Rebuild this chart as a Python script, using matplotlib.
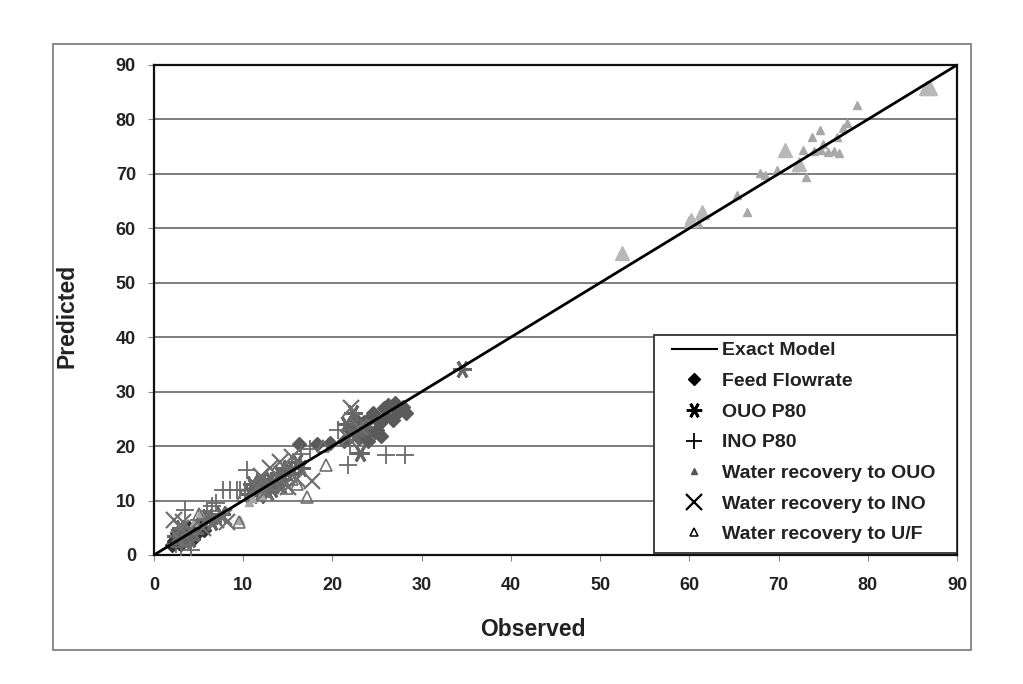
import matplotlib
matplotlib.use("Agg")
import matplotlib.pyplot as plt
from matplotlib.lines import Line2D
from matplotlib.patches import Rectangle

plt.rcParams['font.family'] = ['Liberation Sans', 'DejaVu Sans']

# ---- data (observed, predicted) ----
feed_obs = [2.2, 2.5, 2.8, 3.0, 3.2, 3.4, 3.6, 3.8, 4.0, 4.2, 4.5, 4.7, 5.0, 5.3, 2.6, 3.3, 4.4, 5.6, 2.0, 3.0, 4.8, 3.9,
            16.3, 18.3, 19.7, 21.3, 22.0, 22.7, 23.3, 23.8, 24.2, 24.6, 25.3, 25.8, 26.2, 26.8, 27.3, 27.9, 28.3,
            23.0, 24.0, 25.0, 26.0, 22.5, 23.5, 24.8, 27.0, 25.5]
feed_pred = [2.5, 3.0, 2.2, 3.5, 2.8, 4.0, 3.2, 2.6, 4.3, 3.6, 4.8, 3.9, 4.4, 5.1, 4.0, 4.6, 2.9, 4.6, 1.9, 2.0, 5.5, 5.0,
             20.4, 20.4, 20.6, 20.9, 23.0, 23.6, 22.3, 22.4, 25.2, 26.0, 24.2, 27.0, 27.5, 24.8, 26.3, 27.2, 26.0,
             21.5, 21.0, 23.0, 25.5, 25.0, 24.5, 22.5, 28.0, 21.8]

ouo_p80_obs = [34.5, 23.1, 22.3, 11.5, 12.0, 12.5, 13.0, 13.5, 14.0, 14.5, 15.0, 15.5, 16.0, 12.8, 14.2, 16.5, 11.0,
               2.5, 3.5, 4.5, 6.5, 7.5, 3.0, 22.5, 23.5, 21.5, 10.8, 11.8, 13.2, 14.8, 6.0, 4.0]
ouo_p80_pred = [34.2, 18.7, 26.0, 12.0, 13.5, 12.5, 14.0, 13.0, 15.0, 14.0, 16.0, 15.0, 17.0, 11.5, 12.8, 16.0, 13.0,
                3.5, 2.8, 4.0, 6.0, 7.5, 5.0, 22.0, 23.5, 24.0, 11.2, 11.0, 12.2, 15.5, 7.0, 3.0]

ino_p80_obs = [7.7, 8.5, 9.3, 9.6, 10.2, 10.4, 20.6, 21.7, 26.0, 28.1, 7.0, 6.5, 3.5, 4.2, 3.0, 11.5, 12.5, 14.0,
               15.5, 16.5, 17.5, 22.0, 5.0, 6.0, 2.5]
ino_p80_pred = [12.0, 12.0, 12.0, 12.0, 12.0, 15.6, 23.0, 16.5, 18.4, 18.4, 9.5, 9.0, 8.3, 1.0, 1.5, 13.5, 12.0, 14.5,
                16.0, 18.5, 19.5, 20.0, 6.5, 8.0, 2.0]

wr_ouo_obs = [78.8, 77.7, 77.2, 74.6, 73.8, 76.5, 72.7, 74.0, 74.8, 75.5, 76.2, 76.8, 75.0, 67.9, 69.8, 68.5, 72.0,
              73.1, 65.3, 66.5, 60.0, 61.4, 61.0, 5.2, 10.7, 11.0, 9.6, 4.5, 12.0]
wr_ouo_pred = [82.7, 79.4, 78.5, 78.0, 76.8, 76.8, 74.4, 74.2, 74.3, 74.0, 74.2, 73.8, 75.5, 70.2, 70.7, 69.8, 71.3,
               69.4, 66.1, 63.0, 61.5, 63.0, 61.0, 7.7, 9.8, 10.5, 6.4, 6.0, 11.0]
wr_ouo_big_obs = [52.5, 70.7, 86.5, 87.0, 60.2, 61.4, 72.3]
wr_ouo_big_pred = [55.5, 74.4, 85.8, 85.8, 61.5, 63.0, 71.8]

wr_ino_obs = [2.2, 3.3, 3.0, 4.0, 7.8, 7.0, 8.2, 17.7, 14.1, 22.1, 13.0, 12.0, 15.5, 16.0, 12.5, 15.0, 11.5, 23.0,
              21.8, 2.8, 5.5]
wr_ino_pred = [6.4, 6.1, 5.0, 4.5, 7.0, 6.5, 6.0, 13.5, 17.1, 27.0, 16.0, 14.5, 18.0, 14.0, 11.5, 12.5, 12.5, 23.5,
               21.5, 3.0, 5.0]

wr_uf_obs = [19.3, 17.2, 14.9, 9.5, 10.0, 12.0, 15.5, 5.0, 6.0, 16.0, 13.5, 3.5, 19.0]
wr_uf_pred = [16.5, 10.7, 12.3, 6.0, 11.0, 12.5, 14.0, 7.5, 6.5, 13.0, 13.0, 3.0, 20.0]

model_x = [0, 90]
model_y = [0, 90]

x_ticks = [0, 10, 20, 30, 40, 50, 60, 70, 80, 90]
y_ticks = [0, 10, 20, 30, 40, 50, 60, 70, 80, 90]

labels = ['Exact Model', 'Feed Flowrate', 'OUO P80', 'INO P80',
          'Water recovery to OUO', 'Water recovery to INO', 'Water recovery to U/F']

# ---- figure ----
fig = plt.figure(figsize=(10.23, 6.84), dpi=100)
fig.patch.set_facecolor('white')
fig.add_artist(Rectangle((0.0518, 0.0497), 0.949 - 0.0518, 0.9357 - 0.0497, transform=fig.transFigure,
                         fill=False, edgecolor='#8a8a8a', linewidth=1.4))

ax = fig.add_axes([0.1505, 0.1886, 0.9355 - 0.1505, 0.905 - 0.1886])
ax.set_xlim(0, 90)
ax.set_ylim(0, 90)
ax.set_xticks(x_ticks)
ax.set_yticks(y_ticks)
ax.yaxis.grid(True, color='#5a5a5a', linewidth=1.1)
ax.set_axisbelow(True)

for s in ax.spines.values():
    s.set_color('#111111')
    s.set_linewidth(1.6)

ax.plot(model_x, model_y, color='black', linewidth=2.0, zorder=5)

ax.plot(feed_obs[:22], feed_pred[:22], linestyle='none', marker='D', ms=7, color='#333333', zorder=3)
ax.plot(feed_obs[22:], feed_pred[22:], linestyle='none', marker='D', ms=7, color='#5a5a5a', zorder=3)
ax.plot(ouo_p80_obs, ouo_p80_pred, linestyle='none', marker=(6, 2, 90), ms=13, mew=2.2,
        color='#666666', zorder=3)
ax.plot(ino_p80_obs, ino_p80_pred, linestyle='none', marker='+', ms=13, mew=1.3, color='#6a6a6a', zorder=3)
ax.plot(wr_ouo_obs, wr_ouo_pred, linestyle='none', marker='^', ms=6, color='#a8a8a8', zorder=3)
ax.plot(wr_ouo_big_obs, wr_ouo_big_pred, linestyle='none', marker='^', ms=10, color='#b8b8b8', zorder=3)
ax.plot(wr_ino_obs, wr_ino_pred, linestyle='none', marker='x', ms=12, mew=1.6, color='#707070', zorder=3)
ax.plot(wr_uf_obs, wr_uf_pred, linestyle='none', marker='^', ms=8, mfc='none', mec='#707070', mew=1.2, zorder=3)

ax.tick_params(axis='both', direction='out', length=4, color='#888888', labelsize=13)
ax.tick_params(axis='y', pad=9)
ax.tick_params(axis='x', pad=12)
for lab in ax.get_xticklabels() + ax.get_yticklabels():
    lab.set_fontweight('bold')
    lab.set_color('#222222')

ax.set_xlabel('Observed', fontsize=16.5, fontweight='bold', color='#222222')
ax.set_ylabel('Predicted', fontsize=16.5, fontweight='bold', color='#222222')
ax.xaxis.set_label_coords(0.472, -0.129)
ax.yaxis.set_label_coords(-0.094, 0.488)

# legend frame
ax.add_patch(Rectangle((0.623, 0.004), 0.377, 0.445, transform=ax.transAxes, facecolor='white',
                       edgecolor='#333333', linewidth=1.3, zorder=6))

handles = [
    Line2D([], [], color='black', linewidth=1.5),
    Line2D([], [], linestyle='none', marker='D', ms=6, color='black'),
    Line2D([], [], linestyle='none', marker=(6, 2, 90), ms=11, mew=2.0, color='black'),
    Line2D([], [], linestyle='none', marker='+', ms=12, mew=1.3, color='black'),
    Line2D([], [], linestyle='none', marker='^', ms=5, color='#555555'),
    Line2D([], [], linestyle='none', marker='x', ms=11, mew=1.6, color='black'),
    Line2D([], [], linestyle='none', marker='^', ms=6, mfc='none', mec='black', mew=1.1),
]
leg = ax.legend(handles, labels, loc='upper left', bbox_to_anchor=(0.645, 0.435),
                frameon=False, borderpad=0, borderaxespad=0, handlelength=2.3, handletextpad=0.26,
                labelspacing=0.67, prop={'family': 'Liberation Sans', 'weight': 'bold', 'size': 14})
leg.set_zorder(7)
for t in leg.get_texts():
    t.set_color('#222222')

fig.savefig('out.png', dpi=100, facecolor='white')
